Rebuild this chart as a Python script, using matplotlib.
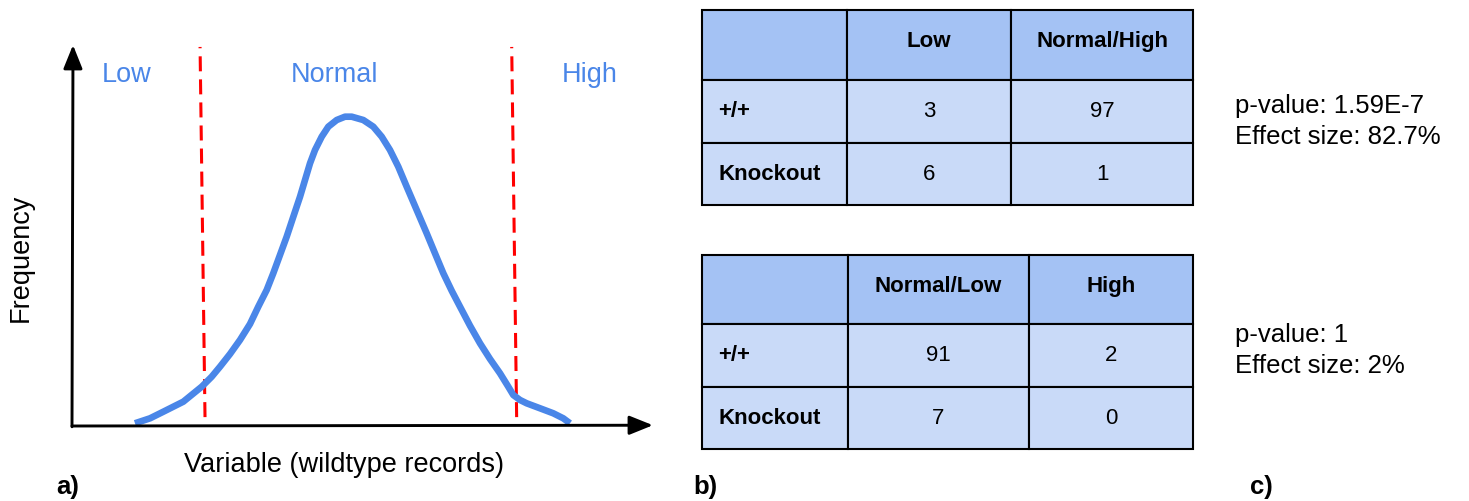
import matplotlib
matplotlib.use("Agg")
import matplotlib.pyplot as plt
from matplotlib.patches import Rectangle
import numpy as np

plt.rcParams['font.family'] = ['Liberation Sans', 'DejaVu Sans']
plt.rcParams['lines.scale_dashes'] = False

W, H = 1469, 501
BLUE = '#4a86e8'
HEADER_BG = '#a4c2f4'
BODY_BG = '#c9daf8'

# Distribution of the variable over wildtype records (arbitrary units)
variable = [10.71, 13.27, 15.53, 18.93, 22.06, 23.76, 25.17, 26.87, 28.57,
            30.27, 31.68, 33.11, 34.23, 35.37, 36.51, 37.64, 38.78, 39.63,
            40.48, 41.33, 42.47, 43.59, 45.02, 46.43, 47.57, 49.54, 51.24,
            52.67, 54.08, 55.49, 56.92, 58.62, 60.32, 61.73, 63.15, 64.57,
            65.99, 67.69, 69.39, 71.09, 72.79, 74.20, 75.05, 76.19, 77.33,
            79.59, 81.85, 83.55, 84.69]
frequency = [0.70, 1.99, 3.70, 6.30, 10.18, 12.77, 15.36, 18.65, 22.28,
             26.42, 30.91, 35.23, 39.56, 44.30, 49.04, 54.22, 59.40, 63.73,
             68.06, 71.50, 74.95, 77.54, 79.27, 80.13, 80.13, 79.27, 77.54,
             74.95, 71.50, 67.18, 62.00, 55.96, 49.92, 44.74, 39.56, 35.05,
             30.91, 25.98, 21.42, 17.36, 13.65, 10.18, 8.03, 6.74, 5.88,
             4.59, 3.29, 1.99, 0.70]

# Range boundaries and names
cutoffs = [22.2, 75.2]
range_names = ['Low', 'Normal', 'High']

# Contingency tables
row_names = ['+/+', 'Knockout']
table1_cols = ['Low', 'Normal/High']
table1_counts = [[3, 97], [6, 1]]
table2_cols = ['Normal/Low', 'High']
table2_counts = [[91, 2], [7, 0]]

# Test results
p_values = ['1.59E-7', '1']
effect_sizes = ['82.7%', '2%']

fig = plt.figure(figsize=(W / 100, H / 100), dpi=100)


def px_axes(x0, y0, x1, y1, **kw):
    return fig.add_axes([x0 / W, 1 - y1 / H, (x1 - x0) / W, (y1 - y0) / H], **kw)


canvas = px_axes(0, 0, W, H)
canvas.set_xlim(0, W)
canvas.set_ylim(H, 0)
canvas.axis('off')

# ---- a) distribution panel ----
axL = px_axes(72, 40, 660, 426)
axL.set_xlim(0, 100)
axL.set_ylim(0, 100)
axL.axis('off')
axL.patch.set_alpha(0)

arrow_kw = dict(arrowstyle='-|>,head_length=0.72,head_width=0.29', lw=2.1,
                color='black', mutation_scale=20, shrinkA=0, shrinkB=0)
axL.annotate('', xy=(98.8, 0.2), xytext=(0, 0), arrowprops=arrow_kw,
             annotation_clip=False)
axL.annotate('', xy=(0.17, 98.7), xytext=(0, -0.2), arrowprops=arrow_kw,
             annotation_clip=False)

tilt = 0.42
for c in cutoffs:
    axL.plot([c + tilt, c - tilt], [2.3, 98.2], color='#ff0000', lw=2.2,
             dashes=(10.8, 5.8), solid_capstyle='butt', clip_on=False)

axL.plot(variable, frequency, color=BLUE, lw=4.8, solid_capstyle='butt',
         solid_joinstyle='round', clip_on=False)

for name, x in zip(range_names, [127, 335, 590]):
    canvas.text(x, 82, name, color=BLUE, fontsize=19.5, ha='center',
                va='baseline')

canvas.text(344, 472, 'Variable (wildtype records)', fontsize=19.5,
            ha='center', va='baseline')
canvas.text(21, 258, 'Frequency', fontsize=19.5, rotation=90,
            ha='center', va='center')

# ---- b) tables ----


def draw_table(box, col_widths, row_heights, cols, counts):
    x0, y0, x1, y1 = box
    ax = px_axes(x0, y0, x1, y1)
    ax.set_xlim(0, sum(col_widths))
    ax.set_ylim(sum(row_heights), 0)
    ax.axis('off')
    xe = np.concatenate([[0], np.cumsum(col_widths)])
    ye = np.concatenate([[0], np.cumsum(row_heights)])
    header = [''] + cols
    for r in range(3):
        for c in range(3):
            ax.add_patch(Rectangle((xe[c], ye[r]), col_widths[c], row_heights[r],
                                   facecolor=HEADER_BG if r == 0 else BODY_BG,
                                   edgecolor='black', lw=1.5, clip_on=False))
    for c in range(1, 3):
        ax.text((xe[c] + xe[c + 1]) / 2, ye[0] + 37, header[c], fontsize=16,
                fontweight='bold', ha='center', va='baseline')
    for r, name in enumerate(row_names):
        ax.text(16, ye[r + 1] + 37, name, fontsize=16, fontweight='bold',
                ha='left', va='baseline')
        for c, v in enumerate(counts[r]):
            ax.text((xe[c + 1] + xe[c + 2]) / 2, ye[r + 1] + 37, str(v),
                    fontsize=16, ha='center', va='baseline')


draw_table((702, 10, 1193, 205), [145, 164, 182], [70, 63, 62],
           table1_cols, table1_counts)
draw_table((702, 255, 1193, 449), [146, 181, 164], [69, 63, 62],
           table2_cols, table2_counts)

# ---- c) statistics ----
for (p, e), y in zip(zip(p_values, effect_sizes), [113, 342]):
    canvas.text(1235, y, f'p-value: {p}', fontsize=18.5, ha='left',
                va='baseline')
    canvas.text(1235, y + 31, f'Effect size: {e}', fontsize=18.5, ha='left',
                va='baseline')

for lab, x in zip(['a)', 'b)', 'c)'], [68, 705, 1261]):
    canvas.text(x, 494, lab, fontsize=18.5, fontweight='bold', ha='center',
                va='baseline')

fig.savefig('out.png', dpi=100)
